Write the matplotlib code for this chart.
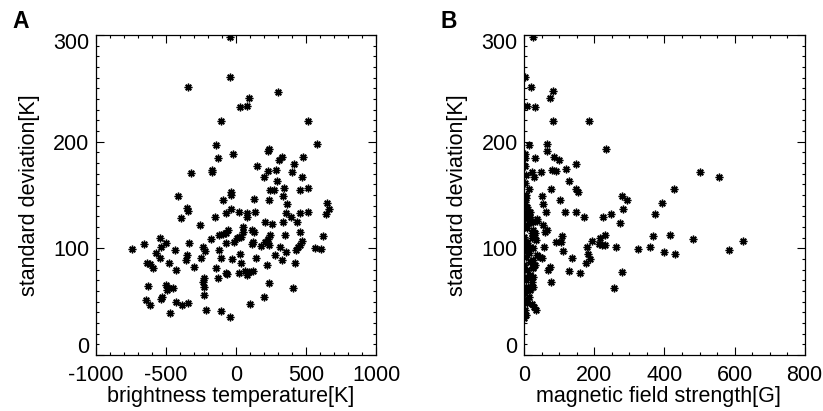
import matplotlib
matplotlib.use('Agg')
import matplotlib.pyplot as plt
import matplotlib.ticker as ticker
import matplotlib.transforms as mtransforms

# -------------------------------
# Daten
# -------------------------------
# Panel A: Helligkeitstemperatur [K] vs. Standardabweichung [K]
bt_x = [-43, -43, -345, 298, 91, 76, 29, -109, 512, -143, 576, 238, 226, -24,
        -124, 329, 305, 481, -321, -169, -169, 150, 226, 286, 414, 400, 198,
        471, 295, 245, 274, 343, 333, 459, 512, -410, -38, -38, -91, 129, 238,
        -352, -345, 367, 650, 667, 643, -67, -33, 21, 81, 81, 133, -152, 357,
        393, 459, 512, -388,
        207, 257, 333, 433, -255, 48, 48, -55, -67, -91, -119, -181, 5, -14,
        24, 40, 117, 131, 124, 117, 207, 226, 243, 236, 176, 352, 457, 624,
        -72, -336, -500, -543, -536, -657, -738, -567, -543, -631, -614, -591,
        -479, -436, -424, -348, -353, -300, -233, -219, -250, -122, -107, -145,
        -29, 28, 38, 143, 224, 278, 314, 357, 328, 421, 429, 445, 457, 472,
        564, 605, 19, 64, 76, 95, 119, -62, -72, -126, -224, -238, -229, -229,
        238, -624, -500, -476, -452, -488, -524, -531, -638, -610, -429, -381,
        -345, -469, -212, -107, -43, 98, 200, 410]
bt_sd = [298.5, 260.4, 251, 246.9, 241, 233.8, 232.3, 219.1, 219.7, 196.9,
         197.6, 193.4, 191.3, 188.2, 185, 186, 182.8, 185.3, 170.9, 173.5,
         171.5, 177.5, 172.8, 173.7, 179, 171.9, 166.6, 167.2, 163.1, 155, 155,
         156.3, 149.3, 155, 156.3, 149.3, 153.1, 150, 145.3, 146, 145.3, 138.1,
         135.3, 141.3, 142.2, 136.9, 131.9, 133.4, 136.6, 134, 132.8, 129.6,
         134.3, 129.6, 133.4, 129, 132.8, 133.8, 128.1,
         125, 122.8, 125, 125, 121.8, 120.3, 115.6, 117.2, 114, 113.4, 112.5,
         108.7, 109.3, 106.2, 110.3, 110.3, 117.2, 115, 106.2, 104, 106.2,
         108.7, 112.5, 103.1, 102.1, 112.5, 115.6, 111.8, 105.3, 105.3, 104.6,
         109.3, 101.5, 103.7, 99.3, 95.3, 91.2, 85.9, 84.9, 81.2, 85.9, 98.4,
         79.6, 93.7, 89, 82.8, 100.9, 97.8, 91.2, 98.4, 91.2, 81.8, 90, 94.6,
         85.9, 90.6, 84, 93.7, 100.9, 96.2, 89, 86.5, 98.4, 100.9, 103.1,
         107.2, 100.6, 99.3, 77.1, 79, 75, 78.1, 79, 75.9, 77.1, 71.8, 71.8,
         68.7, 63.4, 56.2, 67.7, 64.6, 65.6, 62.4, 62.4, 60.9, 54.6, 52.4,
         51.5, 46.8, 49.3, 46.8, 49, 39, 42.1, 41.2, 35.2, 47.7, 54.3, 62.4]

# Panel B: Magnetfeldstaerke [G] vs. Standardabweichung [K]
bf_x = [26, 3, 20, 83, 73, 7, 31, 81, 184, 12, 66, 66, 233, 3, 3, 31, 86, 100,
        1, 23, 27, 48, 79, 91, 120, 148, 127, 148, 152, 76, 14, 5, 4, 50, 102,
        501, 556, 427, 279, 292, 392, 54, 61, 115, 148, 171, 224, 247, 283,
        372, 35,
        273, 35, 54, 64, 59, 107, 104, 91, 110, 216, 231, 212, 223, 231, 194,
        178, 181, 188, 175, 261, 278, 257, 135, 128, 159, 67, 72, 75, 32, 57,
        50, 324, 359, 367, 416, 400, 431, 481, 584, 623,
        24, 31, 21, 33, 9, 16, 3, 12, 35, 45, 24, 31, 26, 9, 16, 5, 21, 26,
        10, 3, 14, 5, 21, 29, 2, 5, 0, 7, 12, 2, 16, 2, 9, 26, 0, 21, 5, 0,
        26, 5, 16, 0, 7, 24, 0, 16, 7, 24, 12, 28,
        3, 5, 7, 16, 2, 14, 1, 4]
bf_sd = [298.6, 260.4, 251.3, 247.3, 241, 233.8, 232.3, 219.1, 219.8, 196.9,
         197.6, 191.6, 193.2, 188.2, 185.1, 185.1, 186, 182.9, 177.6, 171.9,
         167.2, 171.3, 173.5, 172.6, 174.4, 179.1, 163.5, 155.7, 153.2, 155.3,
         155.3, 150, 146.9, 149.4, 145, 171.9, 166.6, 156, 149.4, 145.4, 142.2,
         141.3, 134.4, 133.8, 134.1, 129.1, 129.7, 131.9, 136.9, 131.9, 127.5,
         123.4, 125.6, 121.9, 117.2, 115, 111.8, 105.6, 106.2, 97.8, 109.3,
         112.5, 103.7, 103.1, 103.1, 107.2, 100.9, 94.3, 89.6, 85.9, 100.9,
         77.4, 62.4, 90.6, 79, 76.5, 79.6, 82.1, 68.1, 42.1, 101.5, 91.2, 99.3,
         100.9, 111.8, 112.5, 96.2, 94.3, 108.7, 98.4, 106.8,
         125, 114, 114, 108, 104.6, 101.5, 98.4, 95.3, 93.7, 91.5, 89, 84.3,
         81.2, 79.6, 75, 70.3, 68.7, 63.4, 63.4, 57.7, 54.6, 51.5, 47.4, 45.2,
         42.1, 37.4, 34.3, 139, 134.4, 131.2, 129.7, 121.8, 118.7, 117.2,
         110.9, 109.3, 106.2, 101.5, 100, 92.1, 87.5, 84.3, 73.4, 73.4, 64,
         60.9, 48.4, 82.8, 123.4, 110.9,
         143.8, 139, 132.8, 134.4, 128.1, 129.7, 161, 168.8]

# -------------------------------
# Plot-Einstellungen
# -------------------------------
plt.rcParams['font.family'] = ['Liberation Sans', 'DejaVu Sans']
plt.rcParams['axes.unicode_minus'] = False
FS = 15.5
marker = (8, 2, 0)  # Sternchen wie IDL psym=2

fig = plt.figure(figsize=(8.23, 4.11), dpi=100)
ax_a = fig.add_axes([0.1163, 0.1365, 0.3406, 0.778])
ax_b = fig.add_axes([0.6371, 0.1365, 0.3406, 0.778])

ax_a.plot(bt_x, bt_sd, linestyle='none', marker=marker, ms=5.5, mew=1.0, color='black')
ax_b.plot(bf_x, bf_sd, linestyle='none', marker=marker, ms=5.5, mew=1.0, color='black')

ax_a.set_xlim(-1000, 1000)
ax_a.set_xticks([-1000, -500, 0, 500, 1000])
ax_a.xaxis.set_minor_locator(ticker.MultipleLocator(100))
ax_a.set_xlabel('brightness temperature[K]', fontsize=FS)

ax_b.set_xlim(0, 800)
ax_b.set_xticks([0, 200, 400, 600, 800])
ax_b.xaxis.set_minor_locator(ticker.MultipleLocator(50))
ax_b.set_xlabel('magnetic field strength[G]', fontsize=FS)

for ax in (ax_a, ax_b):
    ax.set_ylim(0, 300)
    ax.set_yticks([0, 100, 200, 300])
    ax.yaxis.set_minor_locator(ticker.MultipleLocator(10))
    ax.set_ylabel('standard deviation[K]', fontsize=FS)
    ax.yaxis.set_label_coords(-0.20, 0.5)
    ax.xaxis.set_label_coords(0.48, -0.097)
    ax.tick_params(which='both', direction='in', top=True, right=True,
                   labelsize=FS, width=0.8)
    ax.tick_params(which='major', length=5.5)
    ax.tick_params(which='minor', length=2.2)
    ax.tick_params(axis='x', which='major', pad=7.2)
    ax.tick_params(axis='y', which='major', pad=4.8)
    for sp in ax.spines.values():
        sp.set_linewidth(0.9)
    # IDL-artige Lage der aeusseren y-Beschriftungen
    labels = ax.get_yticklabels()
    labels[0].set_transform(labels[0].get_transform() +
                            mtransforms.ScaledTranslation(0, 10 / 100, fig.dpi_scale_trans))
    labels[-1].set_transform(labels[-1].get_transform() +
                             mtransforms.ScaledTranslation(0, -5.5 / 100, fig.dpi_scale_trans))

fig.text(0.0155, 0.92, 'A', fontsize=16.5, fontweight='bold', va='bottom')
fig.text(0.535, 0.92, 'B', fontsize=16.5, fontweight='bold', va='bottom')

plt.savefig('out.png', dpi=100)
plt.close()
